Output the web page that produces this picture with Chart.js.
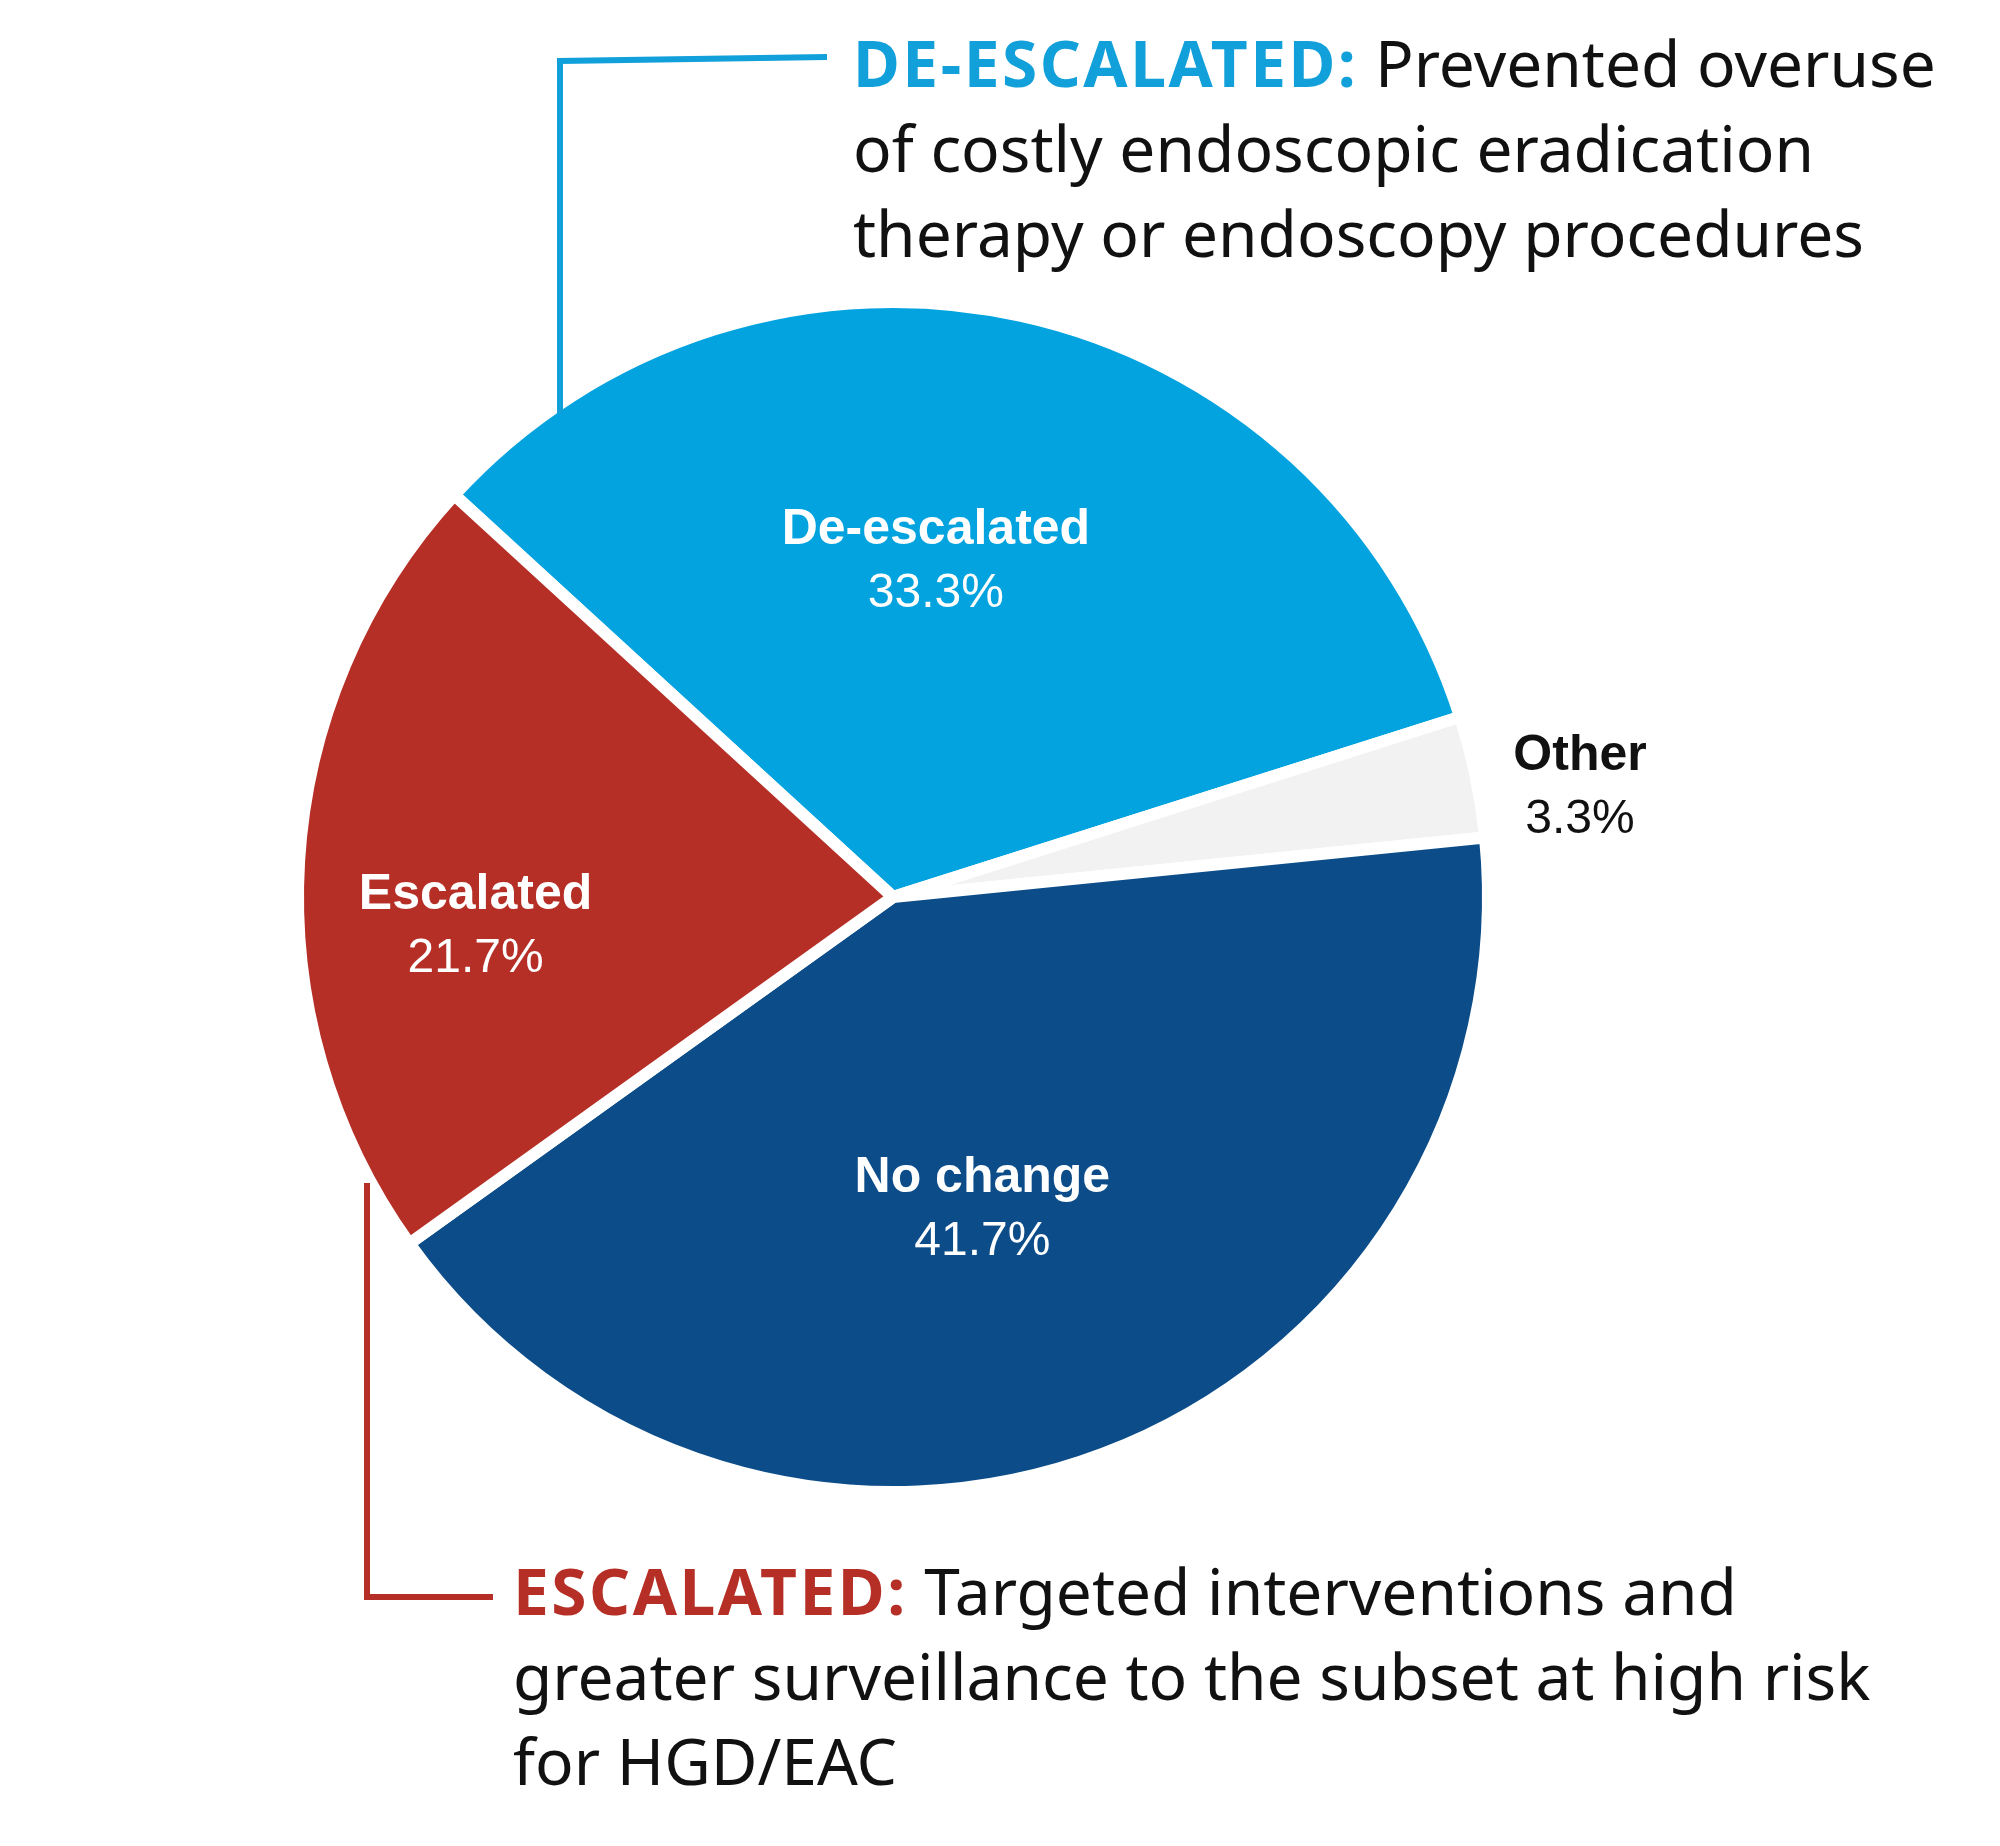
<!DOCTYPE html>
<html>
<head>
<meta charset="utf-8">
<title>Management change</title>
<script src="https://cdn.jsdelivr.net/npm/chart.js"></script>
<style>
  html, body { margin: 0; padding: 0; background: #fff; }
  #wrap { width: 2000px; height: 1846px; position: relative; }
</style>
</head>
<body>
<div id="wrap"><canvas id="pie"></canvas></div>
<script>
// slice data
const categories = ['De-escalated', 'Other', 'No change', 'Escalated'];
const shares = [33.3, 3.3, 41.7, 21.7];
const sliceColors = ['#03A3DF', '#F2F2F2', '#0C4D89', '#B52F26'];
const labelColors = ['#ffffff', '#111111', '#ffffff', '#ffffff'];

// where each slice label sits: angle nudge (deg) and distance as a share of the radius
const labelTurn = [-5.2, 2.4, 4.6, -7.1];
const labelDist = [0.572, 1.17, 0.542, 0.703];

// callout texts
const topHead = 'DE-ESCALATED:';
const topLines = [' Prevented overuse', 'of costly endoscopic eradication', 'therapy or endoscopy procedures'];
const bottomHead = 'ESCALATED:';
const bottomLines = [' Targeted interventions and', 'greater surveillance to the subset at high risk', 'for HGD/EAC'];

const noteFont = '"Noto Sans", sans-serif';
const labelFont = '"Liberation Sans", Arial, sans-serif';

function drawNote(ctx, x, y0, step, head, headColor, lines) {
  ctx.textAlign = 'left';
  ctx.textBaseline = 'alphabetic';
  lines.forEach((line, i) => {
    let x0 = x;
    const y = y0 + i * step;
    if (i === 0) {
      ctx.font = `bold 64px ${noteFont}`;
      ctx.letterSpacing = '2.5px';
      ctx.fillStyle = headColor;
      ctx.fillText(head, x0, y);
      x0 += ctx.measureText(head).width;
      ctx.letterSpacing = '0px';
    }
    ctx.font = `64px ${noteFont}`;
    ctx.fillStyle = '#111111';
    ctx.fillText(line, x0, y);
  });
}

const sliceLabels = {
  id: 'sliceLabels',
  afterDatasetsDraw(chart) {
    const ctx = chart.ctx;
    const arcs = chart.getDatasetMeta(0).data;
    ctx.save();
    ctx.textAlign = 'center';
    ctx.textBaseline = 'alphabetic';
    arcs.forEach((arc, i) => {
      const mid = (arc.startAngle + arc.endAngle) / 2 + labelTurn[i] * Math.PI / 180;
      const r = arc.outerRadius * labelDist[i];
      const x = arc.x + Math.cos(mid) * r;
      const y = arc.y + Math.sin(mid) * r;
      ctx.fillStyle = labelColors[i];
      ctx.font = `bold 50px ${labelFont}`;
      ctx.fillText(categories[i], x, y - 15);
      ctx.font = `48px ${labelFont}`;
      ctx.fillText(shares[i].toFixed(1) + '%', x, y + 48);
    });
    ctx.restore();
  }
};

const callouts = {
  id: 'callouts',
  afterDraw(chart) {
    const ctx = chart.ctx;
    const arc = chart.getDatasetMeta(0).data[0];
    const cx = arc.x, cy = arc.y, r = arc.outerRadius - 6;
    ctx.save();
    ctx.lineWidth = 6;
    ctx.lineCap = 'butt';
    ctx.lineJoin = 'miter';

    // blue bracket: down to the rim of the pie
    const bx = 560;
    const by = cy - Math.sqrt(r * r - (bx - cx) * (bx - cx));
    ctx.strokeStyle = '#12A0DA';
    ctx.beginPath();
    ctx.moveTo(827, 57);
    ctx.lineTo(bx, 61);
    ctx.lineTo(bx, by + 2);
    ctx.stroke();

    // red bracket
    ctx.strokeStyle = '#B52F26';
    ctx.beginPath();
    ctx.moveTo(367, 1183);
    ctx.lineTo(367, 1597);
    ctx.lineTo(493, 1597);
    ctx.stroke();

    drawNote(ctx, 853, 87, 85, topHead, '#12A0DA', topLines);
    drawNote(ctx, 513, 1615, 85, bottomHead, '#B52F26', bottomLines);
    ctx.restore();
  }
};

new Chart(document.getElementById('pie'), {
  type: 'pie',
  data: {
    labels: categories,
    datasets: [{
      data: shares,
      backgroundColor: sliceColors,
      borderColor: '#ffffff',
      borderWidth: 12
    }]
  },
  options: {
    responsive: true,
    maintainAspectRatio: false,
    animation: false,
    rotation: -47.5,
    radius: 595,
    layout: { padding: { left: 0, right: 214, top: 0, bottom: 52 } },
    plugins: { legend: { display: false }, tooltip: { enabled: false } }
  },
  plugins: [sliceLabels, callouts]
});
</script>
</body>
</html>
